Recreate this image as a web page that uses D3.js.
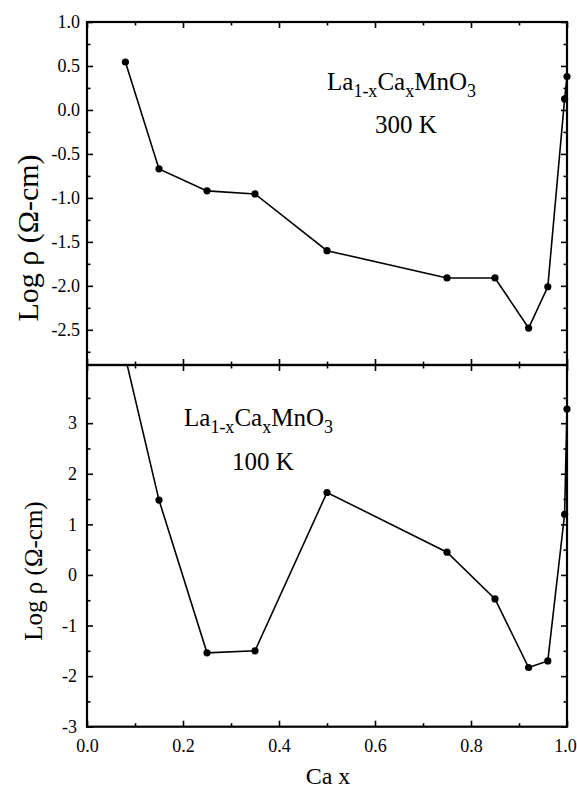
<!DOCTYPE html>
<html><head><meta charset="utf-8">
<script src="https://cdn.jsdelivr.net/npm/d3@7/dist/d3.min.js"></script>
<style>body{margin:0;background:#fff}svg{display:block}text{font-family:"Liberation Serif","Times New Roman",serif;fill:#000}
.tick text{font-family:"Liberation Serif",serif !important;font-size:18px !important;fill:#000 !important}</style>
</head><body><svg id="c" width="577" height="789"></svg>
<script>
// Data
const caX = [0.08, 0.15, 0.25, 0.35, 0.5, 0.75, 0.85, 0.92, 0.96, 0.995, 1.0];
const logRho300 = [0.545, -0.67, -0.92, -0.955, -1.60, -1.91, -1.91, -2.48, -2.01, 0.125, 0.38];
const logRho100 = [4.3, 1.48, -1.54, -1.50, 1.63, 0.45, -0.475, -1.83, -1.70, 1.2, 3.28];
const xMajor = [0, 0.2, 0.4, 0.6, 0.8, 1.0];
const xMinor = [0.1, 0.3, 0.5, 0.7, 0.9];
const yTopMajor = [1.0, 0.5, 0.0, -0.5, -1.0, -1.5, -2.0, -2.5];
const yTopMinor = [0.75, 0.25, -0.25, -0.75, -1.25, -1.75, -2.25, -2.75];
const yBotMajor = [3, 2, 1, 0, -1, -2, -3];
const yBotMinor = [3.5, 2.5, 1.5, 0.5, -0.5, -1.5, -2.5];

const svg = d3.select("#c");
const L = 87, R = 567, T = 22, M = 365, B = 726.7;
const x = d3.scaleLinear().domain([0, 1]).range([L, R]);
const yTop = d3.scaleLinear().domain([-2.9, 1.0]).range([M, T]);
const yBot = d3.scaleLinear().domain([-3, 4.15]).range([B, M]);

function ticksFor(g, axis) {
  g.call(axis);
  g.attr("font-family", null).attr("font-size", null);
  g.select(".domain").remove();
  g.selectAll(".tick line").attr("stroke", "#000").attr("stroke-width", 1.6);
  return g;
}

function panel(y, top, bottom, major, minor, fmt, labelEnd, showX) {
  ticksFor(svg.append("g").attr("transform", `translate(${L},0)`),
    d3.axisLeft(y).tickValues(major).tickSize(-6).tickPadding(L - labelEnd).tickFormat(fmt));
  ticksFor(svg.append("g").attr("transform", `translate(${L},0)`),
    d3.axisLeft(y).tickValues(minor).tickSize(-3.5).tickFormat(""));
  ticksFor(svg.append("g").attr("transform", `translate(${R},0)`),
    d3.axisRight(y).tickValues(major).tickSize(-6).tickFormat(""));
  ticksFor(svg.append("g").attr("transform", `translate(${R},0)`),
    d3.axisRight(y).tickValues(minor).tickSize(-3.5).tickFormat(""));
  ticksFor(svg.append("g").attr("transform", `translate(0,${top})`),
    d3.axisTop(x).tickValues(xMajor).tickSize(-6).tickFormat(""));
  ticksFor(svg.append("g").attr("transform", `translate(0,${top})`),
    d3.axisTop(x).tickValues(xMinor).tickSize(-3.5).tickFormat(""));
  const gb = ticksFor(svg.append("g").attr("transform", `translate(0,${bottom})`),
    d3.axisBottom(x).tickValues(xMajor).tickSize(-6).tickPadding(13)
      .tickFormat(showX ? (d => d.toFixed(1)) : ""));
  gb.selectAll(".tick text").filter(d => d === 1).attr("dx", -2);
  ticksFor(svg.append("g").attr("transform", `translate(0,${bottom})`),
    d3.axisBottom(x).tickValues(xMinor).tickSize(-3.5).tickFormat(""));
  svg.append("rect").attr("x", L).attr("y", top).attr("width", R - L).attr("height", bottom - top)
    .attr("fill", "none").attr("stroke", "#000").attr("stroke-width", 2.2);
}

panel(yTop, T, M, yTopMajor, yTopMinor, d => d.toFixed(1), 80, false);
panel(yBot, M, B, yBotMajor, yBotMinor, d => String(d), 77, true);

const defs = svg.append("defs");
defs.append("clipPath").attr("id", "clipTop").append("rect").attr("x", 0).attr("y", T - 8).attr("width", 577).attr("height", M - T + 8);
defs.append("clipPath").attr("id", "clipBot").append("rect").attr("x", 0).attr("y", M).attr("width", 577).attr("height", 789 - M);

function series(y, vals, clip) {
  const pts = caX.map((c, i) => [c, vals[i]]);
  const g = svg.append("g").attr("clip-path", `url(#${clip})`);
  g.append("path").datum(pts)
    .attr("d", d3.line().x(d => x(d[0])).y(d => y(d[1])))
    .attr("fill", "none").attr("stroke", "#000").attr("stroke-width", 1.6);
  g.selectAll("circle").data(pts).join("circle")
    .attr("cx", d => x(d[0])).attr("cy", d => y(d[1])).attr("r", 3.6).attr("fill", "#000");
}
series(yTop, logRho300, "clipTop");
series(yBot, logRho100, "clipBot");

function formula(xp, yp) {
  const t = svg.append("text").attr("x", xp).attr("y", yp).style("font-size", "25px");
  t.append("tspan").text("La");
  t.append("tspan").attr("dy", 7).style("font-size", "18px").text("1-x");
  t.append("tspan").attr("dy", -7).text("Ca");
  t.append("tspan").attr("dy", 7).style("font-size", "18px").text("x");
  t.append("tspan").attr("dy", -7).text("MnO");
  t.append("tspan").attr("dy", 7).style("font-size", "18px").text("3");
}
formula(327, 90);
svg.append("text").attr("x", 406).attr("y", 133).attr("text-anchor", "middle").style("font-size", "25px").text("300 K");
formula(184, 426);
svg.append("text").attr("x", 263).attr("y", 470).attr("text-anchor", "middle").style("font-size", "25px").text("100 K");

svg.append("text").attr("transform", "translate(38,238) rotate(-90)").attr("text-anchor", "middle")
  .style("font-size", "30px").text("Log ρ (Ω-cm)");
svg.append("text").attr("transform", "translate(42,571) rotate(-90)").attr("text-anchor", "middle")
  .style("font-size", "25px").text("Log ρ (Ω-cm)");
svg.append("text").attr("x", 328).attr("y", 784).attr("text-anchor", "middle").style("font-size", "24px").text("Ca x");
</script></body></html>
